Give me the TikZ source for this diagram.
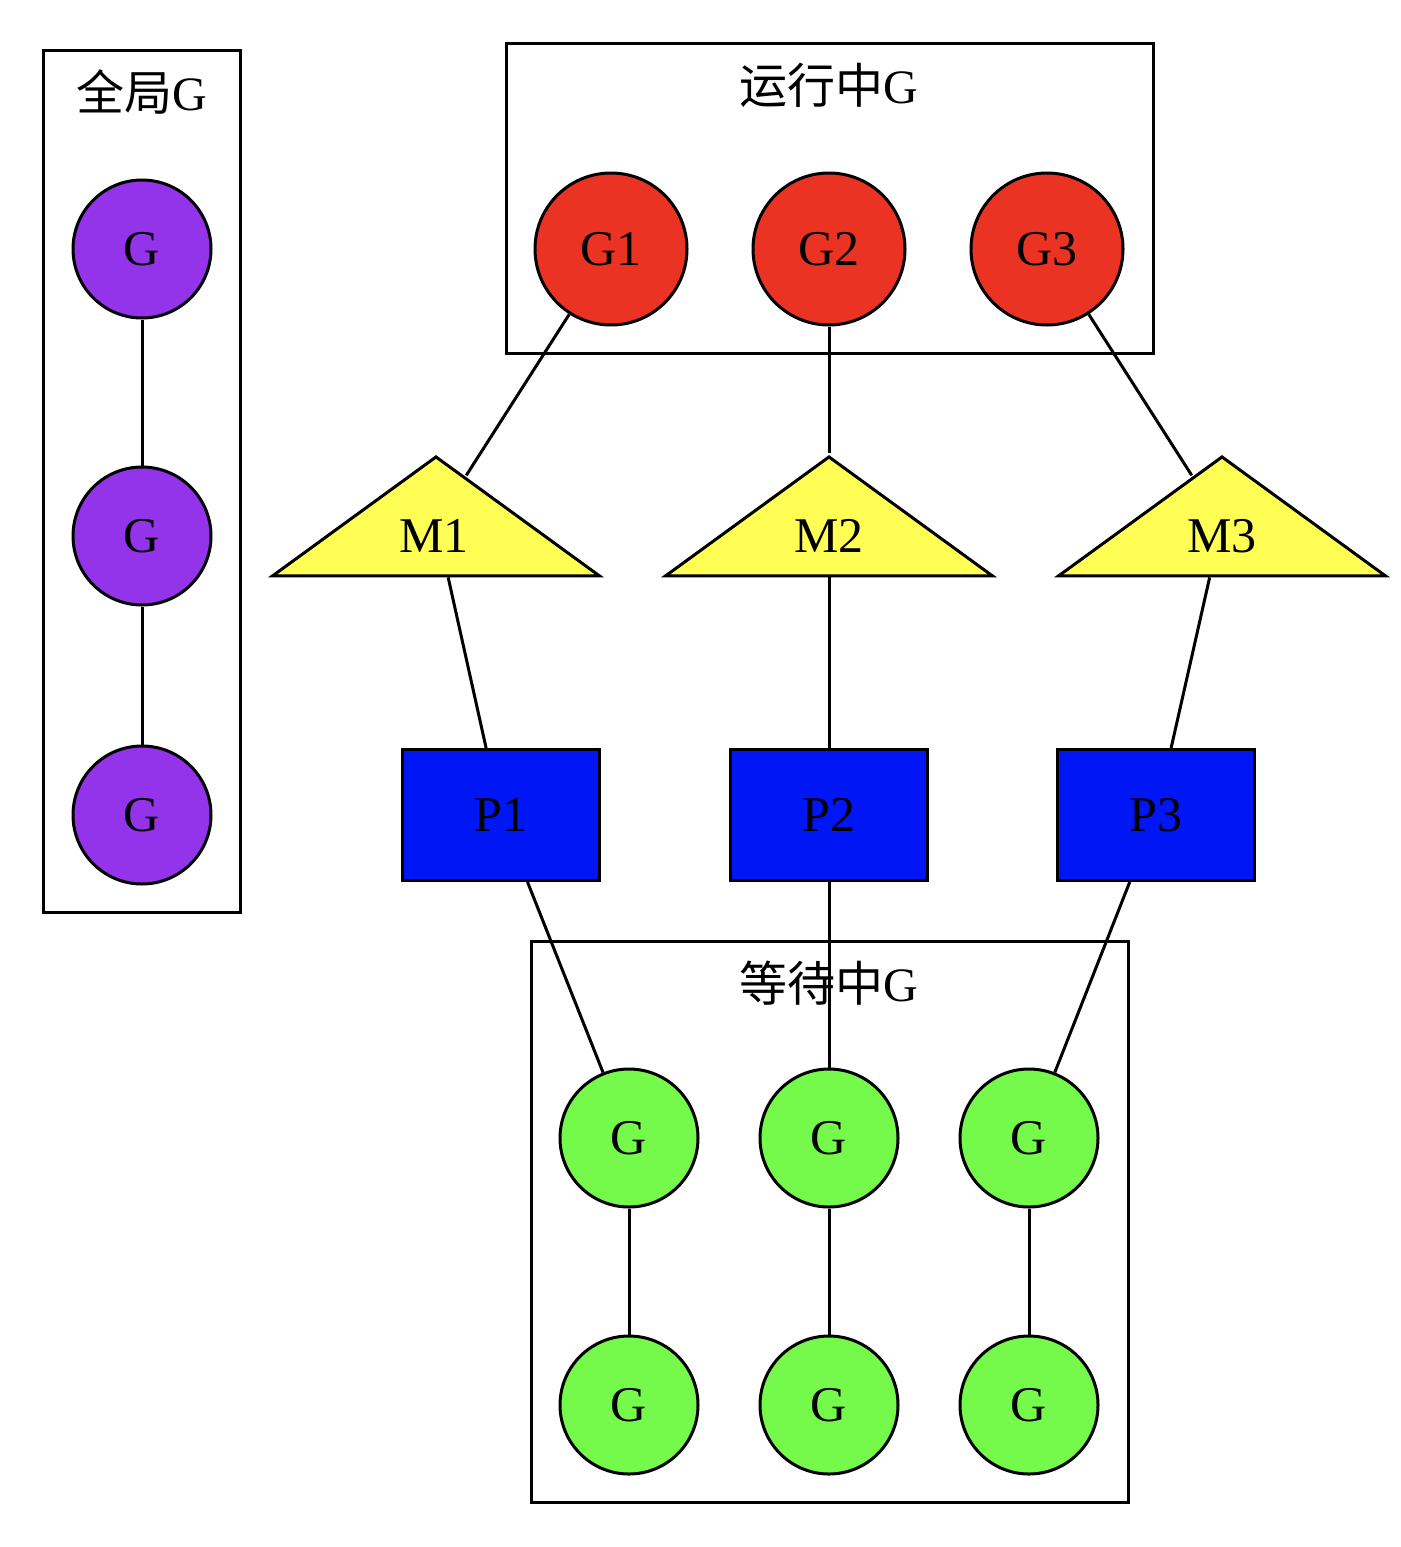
\documentclass[tikz,border=0pt]{standalone}
\usepackage{fontspec}
\setmainfont{Liberation Serif}
\newfontfamily\cjk{Noto Sans CJK SC}
\usetikzlibrary{shapes.geometric}
\definecolor{gpurple}{RGB}{147,51,234}
\definecolor{gred}{RGB}{234,51,35}
\definecolor{gyellow}{RGB}{255,254,84}
\definecolor{gblue}{RGB}{0,22,245}
\definecolor{ggreen}{RGB}{117,250,76}
\begin{document}
\begin{tikzpicture}[x=1pt,y=-1pt,
  every node/.style={font=\fontsize{50}{56}\selectfont},
  base/.style={draw=black, line width=3pt, inner sep=0pt},
  purpleg/.style={base, circle, fill=gpurple, minimum size=138pt},
  redg/.style={base, circle, fill=gred, minimum size=152pt},
  greeng/.style={base, circle, fill=ggreen, minimum size=138pt},
  mtri/.style={base, isosceles triangle, shape border rotate=90, isosceles triangle stretches, fill=gyellow, minimum width=327pt, minimum height=119pt, anchor=apex},
  pbox/.style={base, rectangle, fill=gblue, minimum width=197pt, minimum height=131pt},
  cluster/.style={draw=black, line width=3pt},
  title/.style={font=\fontsize{48}{54}\selectfont},
  link/.style={draw=black, line width=3pt}
]
\useasboundingbox (0,0) rectangle (1400,1547);
% clusters
\draw[cluster] (43,50) rectangle (240,912);
\node[title] (tglobal) at (142,92) {{\cjk 全局}G};
\draw[cluster] (506,43) rectangle (1153,353);
\node[title] (trun) at (829,85) {{\cjk 运行中}G};
\draw[cluster] (531,941) rectangle (1128,1502);
\node[title] (twait) at (829,983) {{\cjk 等待中}G};
% nodes
\node[purpleg] (q1) at (142,249) {G\hspace{12pt}};
\node[purpleg] (q2) at (142,536) {G\hspace{12pt}};
\node[purpleg] (q3) at (142,815) {G\hspace{12pt}};
\node[redg] (g1) at (611,249) {G1\hspace{3pt}};
\node[redg] (g2) at (829,249) {G2};
\node[redg] (g3) at (1047,249) {G3};
\node[mtri] (m1) at (436,453) {};
\node[mtri] (m2) at (829,453) {};
\node[mtri] (m3) at (1222,453) {};
\node (m1t) at (434,536) {M1};
\node (m2t) at (829,536) {M2};
\node (m3t) at (1222,536) {M3};
\node[pbox] (p1) at (501,815) {P1};
\node[pbox] (p2) at (829,815) {P2};
\node[pbox] (p3) at (1156,815) {P3};
\node[greeng] (w1) at (629,1138) {G\hspace{12pt}};
\node[greeng] (w2) at (829,1138) {G\hspace{12pt}};
\node[greeng] (w3) at (1029,1138) {G\hspace{12pt}};
\node[greeng] (w4) at (629,1405) {G\hspace{12pt}};
\node[greeng] (w5) at (829,1405) {G\hspace{12pt}};
\node[greeng] (w6) at (1029,1405) {G\hspace{12pt}};
% links
\draw[link] (q1) -- (q2);
\draw[link] (q2) -- (q3);
\draw[link] (g1) -- (m1);
\draw[link] (g2) -- (m2);
\draw[link] (g3) -- (m3);
\draw[link] (m1) -- (p1);
\draw[link] (m2) -- (p2);
\draw[link] (m3) -- (p3);
\draw[link] (p1) -- (w1);
\draw[link] (p2) -- (w2);
\draw[link] (p3) -- (w3);
\draw[link] (w1) -- (w4);
\draw[link] (w2) -- (w5);
\draw[link] (w3) -- (w6);
\end{tikzpicture}
\end{document}
